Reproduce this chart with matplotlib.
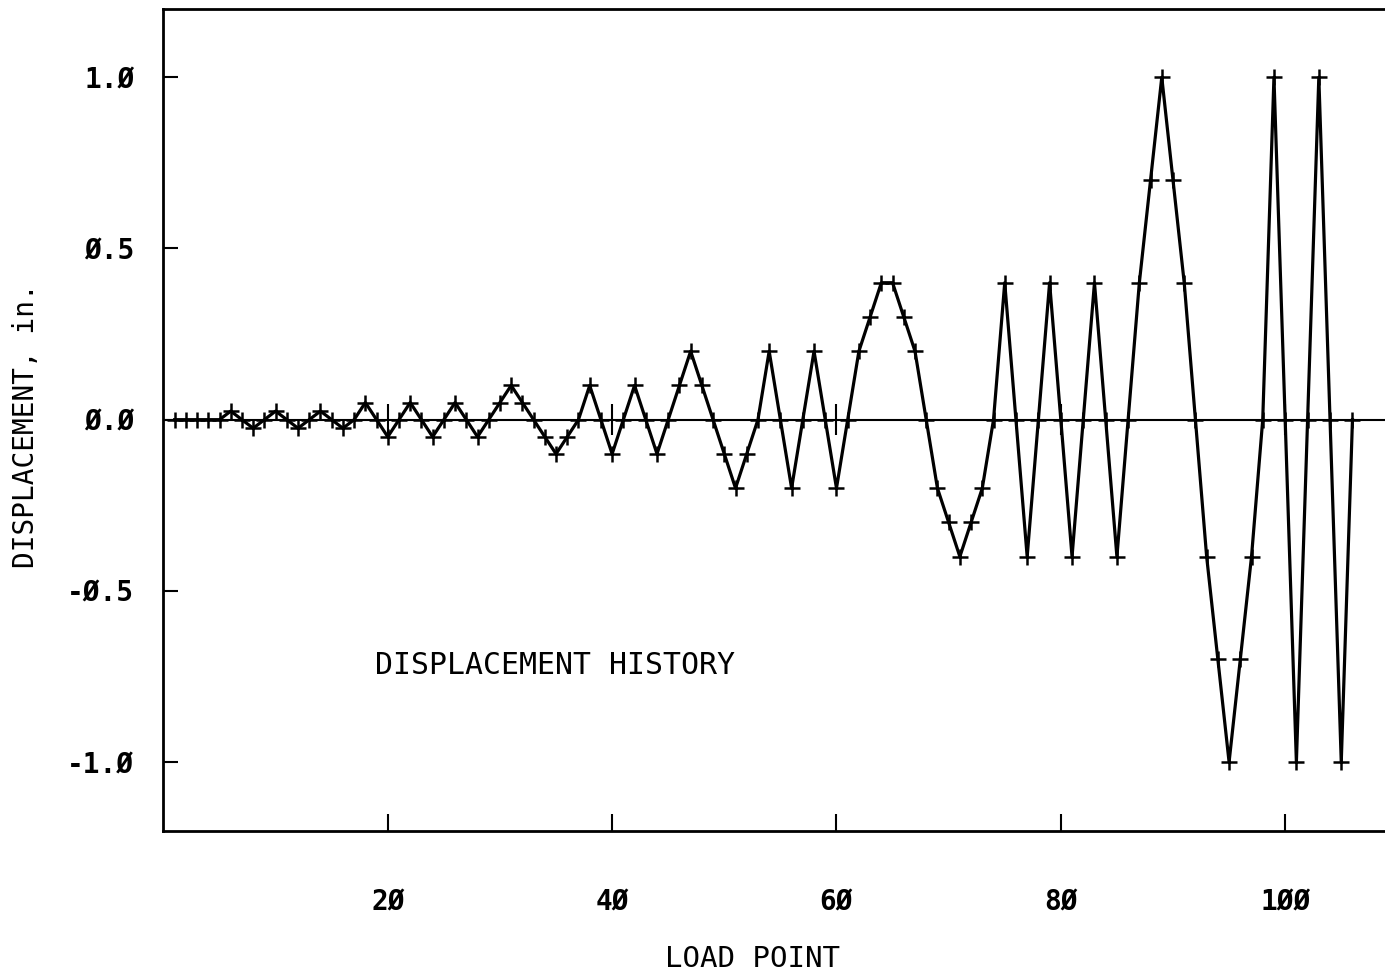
import numpy as np
import matplotlib
matplotlib.use("Agg")
import matplotlib.pyplot as plt

# ---- data ----
load_point = np.arange(1, 107)
displacement = [
    0, 0, 0, 0, 0,
    0.025, 0, -0.025, 0, 0.025, 0, -0.025, 0, 0.025, 0, -0.025, 0,
    0.05, 0, -0.05, 0, 0.05, 0, -0.05, 0, 0.05, 0, -0.05, 0,
    0.05, 0.1, 0.05, 0, -0.05, -0.1, -0.05, 0,
    0.1, 0, -0.1, 0, 0.1, 0, -0.1, 0,
    0.1, 0.2, 0.1, 0, -0.1, -0.2, -0.1, 0,
    0.2, 0, -0.2, 0, 0.2, 0, -0.2, 0,
    0.2, 0.3, 0.4, 0.4, 0.3, 0.2, 0, -0.2, -0.3, -0.4, -0.3, -0.2, 0,
    0.4, 0, -0.4, 0, 0.4, 0, -0.4, 0, 0.4, 0, -0.4, 0,
    0.4, 0.7, 1.0, 0.7, 0.4, 0, -0.4, -0.7, -1.0, -0.7, -0.4, 0,
    1.0, 0, -1.0, 0, 1.0, 0, -1.0, 0,
]

x_ticks = [20, 40, 60, 80, 100]
x_ticklabels = ["2Ø", "4Ø", "6Ø", "8Ø", "1ØØ"]
y_ticks = [-1.0, -0.5, 0.0, 0.5, 1.0]
y_ticklabels = ["-1.Ø", "-Ø.5", "Ø.Ø", "Ø.5", "1.Ø"]

MONO = "DejaVu Sans Mono"


def main():
    fig = plt.figure(figsize=(13.85, 9.76), dpi=100)
    ax = fig.add_axes([0.118, 0.149, 0.882, 0.842])

    # zero reference line with small ticks on it
    ax.axhline(0, color="black", linewidth=1.5, zorder=1)
    ax.vlines(x_ticks, -0.045, 0.045, color="black", linewidth=1.5, zorder=1)

    ax.plot(load_point, displacement, color="black", linewidth=2.3,
            marker="+", markersize=11, markeredgewidth=1.8, zorder=2)

    ax.set_xlim(0, 108.9)
    ax.set_ylim(-1.2, 1.2)

    ax.spines["right"].set_visible(False)
    for s in ["left", "bottom", "top"]:
        ax.spines[s].set_linewidth(2.0)

    ax.set_xticks(x_ticks)
    ax.set_xticklabels(x_ticklabels, family=MONO, fontsize=20, fontweight="bold")
    ax.set_yticks(y_ticks)
    ax.set_yticklabels(y_ticklabels, family=MONO, fontsize=20, fontweight="bold")
    ax.tick_params(axis="x", direction="in", length=12, width=1.5, pad=42)
    ax.tick_params(axis="y", direction="in", length=11, width=1.5, pad=21)

    ax.set_xlabel("LOAD POINT", family=MONO, fontsize=21)
    ax.xaxis.set_label_coords(0.4826, -0.139)
    ax.set_ylabel("DISPLACEMENT, in.", family=MONO, fontsize=20)
    ax.yaxis.set_label_coords(-0.101, 0.493)

    ax.text(0.173, 0.201, "DISPLACEMENT HISTORY", transform=ax.transAxes,
            family=MONO, fontsize=21.5, va="center", ha="left")

    fig.savefig("out.png", dpi=100)
    plt.close(fig)


if __name__ == "__main__":
    main()
